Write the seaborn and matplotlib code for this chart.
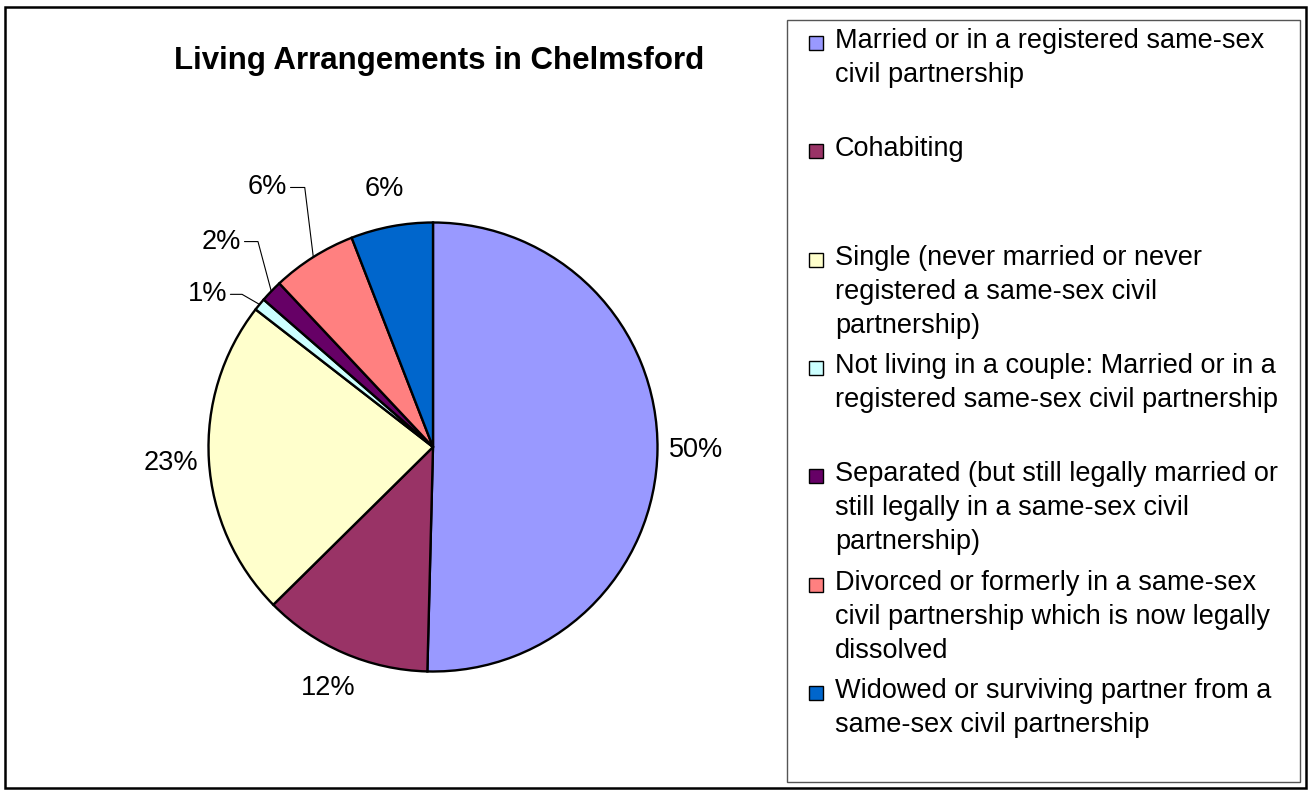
import matplotlib
matplotlib.use("Agg")
import matplotlib.pyplot as plt
from matplotlib.patches import Rectangle
import seaborn as sns
import numpy as np

categories = [
    "Married or in a registered same-sex\ncivil partnership",
    "Cohabiting",
    "Single (never married or never\nregistered a same-sex civil\npartnership)",
    "Not living in a couple: Married or in a\nregistered same-sex civil partnership",
    "Separated (but still legally married or\nstill legally in a same-sex civil\npartnership)",
    "Divorced or formerly in a same-sex\ncivil partnership which is now legally\ndissolved",
    "Widowed or surviving partner from a\nsame-sex civil partnership",
]
shares = [50.4, 12.2, 22.9, 0.9, 1.6, 6.1, 5.9]
colors = ["#9999FF", "#993366", "#FFFFCC", "#CCFFFF", "#660066", "#FF8080", "#0066CC"]
title = "Living Arrangements in Chelmsford"

# small slices get their label pulled out with a leader line:
# index -> (label position, angle of the line going to the slice)
leader = {3: ((-1.005, 0.68), 150), 4: ((-0.942, 0.915), 105), 5: ((-0.737, 1.156), 97)}

sns.set_style("white")
plt.rcParams["font.family"] = ["Liberation Sans", "DejaVu Sans"]
plt.rcParams["text.color"] = "black"

W, H = 1311, 792
fig = plt.figure(figsize=(W / 100, H / 100), dpi=100)


def fx(x):
    return x / W


def fy(y):
    return 1 - y / H


# pie centre and radius in pixels
cx, cy, r = 433, 447, 224.5
k = 1.3
ax = fig.add_axes([fx(cx - k * r), fy(cy + k * r), 2 * k * r / W, 2 * k * r / H])
wedges, _ = ax.pie(shares, colors=sns.color_palette(colors), startangle=90, counterclock=False,
                   radius=1, wedgeprops=dict(edgecolor="black", linewidth=1.7))
ax.set_xlim(-k, k)
ax.set_ylim(-k, k)
ax.set_aspect("equal")
ax.axis("off")

total = sum(shares)
for i, w in enumerate(wedges):
    txt = "{:.0f}%".format(shares[i] / total * 100)
    mid = np.deg2rad((w.theta1 + w.theta2) / 2)
    if i in leader:
        pos, angB = leader[i]
        ax.annotate(txt, xy=(np.cos(mid), np.sin(mid)), xytext=pos, ha="center", va="center",
                    fontsize=19.5, color="black",
                    arrowprops=dict(arrowstyle="-", color="black", lw=0.8, relpos=(1, 0.5),
                                    shrinkA=0, shrinkB=0,
                                    connectionstyle="angle,angleA=0,angleB={},rad=0".format(angB)))
    else:
        ax.text(1.17 * np.cos(mid), 1.17 * np.sin(mid), txt, ha="center", va="center",
                fontsize=19.5, color="black")

fig.text(fx(439), fy(69), title, ha="center", va="baseline", fontsize=22.5, fontweight="bold",
         color="black")

# outer chart border
fig.add_artist(Rectangle((fx(5), fy(788)), (1306 - 5) / W, (788 - 7) / H, transform=fig.transFigure,
                         fill=False, edgecolor="black", lw=1.8))

# legend box, Excel style: one entry every ~108 px, marker next to the first line
fig.add_artist(Rectangle((fx(787), fy(782)), (1300 - 787) / W, (782 - 20) / H, transform=fig.transFigure,
                         fill=False, edgecolor="#555555", lw=1))
step = 108.33
for i, (lab, col) in enumerate(zip(categories, colors)):
    fig.add_artist(Rectangle((fx(809), fy(50 + i * step)), 14 / W, 14 / H, transform=fig.transFigure,
                             facecolor=col, edgecolor="black", lw=1))
    fig.text(fx(835), fy(28 + i * step), lab, ha="left", va="top", fontsize=19.5, linespacing=1.40,
             color="black")

fig.savefig("out.png", dpi=100)
